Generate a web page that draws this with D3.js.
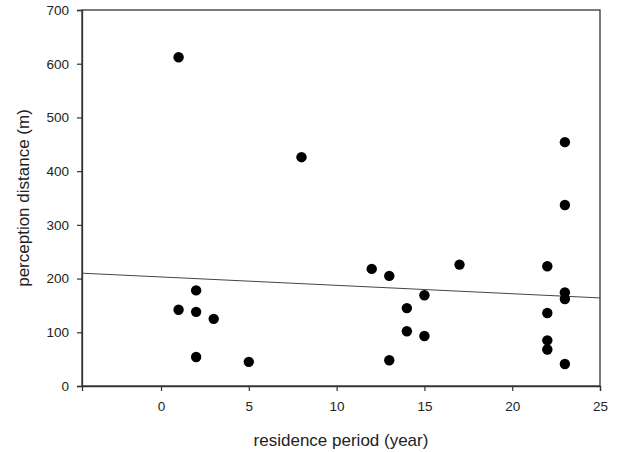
<!DOCTYPE html>
<html>
<head>
<meta charset="utf-8">
<script src="https://cdn.jsdelivr.net/npm/d3@7"></script>
<style>
  html, body { margin: 0; padding: 0; background: #fff; }
  svg { display: block; }
  text { font-family: "Liberation Sans", Arial, sans-serif; fill: #222; }
</style>
</head>
<body>
<svg id="chart" width="619" height="452"></svg>
<script>
// Residence period (years) and perception distance (m) for each respondent
const residenceYears = [1, 1, 2, 2, 2, 3, 5, 8, 12, 13, 13, 14, 14, 15, 15, 17, 22, 22, 22, 22, 23, 23, 23, 23, 23];
const perceptionDist = [612, 142, 178, 138, 54, 125, 45, 426, 218, 205, 48, 145, 102, 169, 93, 226, 223, 136, 85, 68, 454, 337, 174, 162, 41];

// Fitted linear trend: distance = intercept + slope * years
const trendIntercept = 203;
const trendSlope = -1.56;

const xTicks = [0, 5, 10, 15, 20, 25];
const yTicks = [0, 100, 200, 300, 400, 500, 600, 700];

const svg = d3.select("#chart");
const margin = { left: 82, right: 19, top: 10, bottom: 66 };
const W = 619, H = 452;

const x = d3.scaleLinear().domain([-4.5, 25]).range([margin.left, W - margin.right]);
const y = d3.scaleLinear().domain([0, 700]).range([H - margin.bottom, margin.top]);

// Plot frame
svg.append("rect")
  .attr("x", x(-4.5)).attr("y", y(700))
  .attr("width", x(25) - x(-4.5)).attr("height", y(0) - y(700))
  .attr("fill", "none").attr("stroke", "#333").attr("stroke-width", 1.3);

// Axes
const xAxis = svg.append("g")
  .attr("transform", `translate(0,${y(0)})`)
  .call(d3.axisBottom(x).tickValues(xTicks).tickSize(5).tickPadding(10).tickFormat(d3.format("d")));
const yAxis = svg.append("g")
  .attr("transform", `translate(${x(-4.5)},0)`)
  .call(d3.axisLeft(y).tickValues(yTicks).tickSize(5).tickPadding(8).tickFormat(d3.format("d")));

[xAxis, yAxis].forEach(g => {
  g.select(".domain").attr("stroke", "#333").attr("stroke-width", 1.3);
  g.selectAll(".tick line").attr("stroke", "#333").attr("stroke-width", 1.2);
  g.selectAll(".tick text")
    .attr("fill", "#333")
    .style("font-family", '"Liberation Sans", Arial, sans-serif')
    .style("font-size", "13.5px");
});

// Trend line across the full x range
const trendX = x.domain();
svg.append("line")
  .attr("x1", x(trendX[0])).attr("y1", y(trendIntercept + trendSlope * trendX[0]))
  .attr("x2", x(trendX[1])).attr("y2", y(trendIntercept + trendSlope * trendX[1]))
  .attr("stroke", "#444").attr("stroke-width", 1);

// Data points
svg.append("g").selectAll("circle")
  .data(residenceYears.map((v, i) => [v, perceptionDist[i]]))
  .join("circle")
  .attr("cx", d => x(d[0]))
  .attr("cy", d => y(d[1]))
  .attr("r", 5.2)
  .attr("fill", "#000");

// Axis titles
svg.append("text")
  .attr("x", (x(-4.5) + x(25)) / 2)
  .attr("y", 446)
  .attr("text-anchor", "middle")
  .style("font-size", "17px")
  .attr("fill", "#333")
  .text("residence period (year)");

svg.append("text")
  .attr("transform", `translate(28.5,${(y(0) + y(700)) / 2}) rotate(-90)`)
  .attr("text-anchor", "middle")
  .style("font-size", "17px")
  .attr("fill", "#333")
  .text("perception distance (m)");
</script>
</body>
</html>
